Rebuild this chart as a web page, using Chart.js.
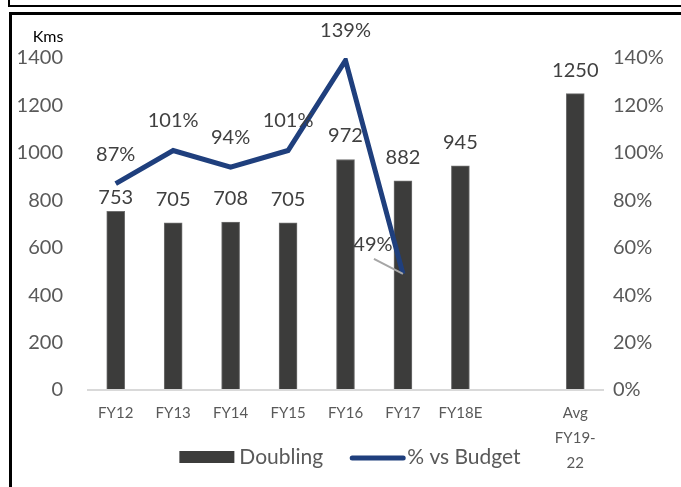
<!DOCTYPE html>
<html>
<head>
<meta charset="utf-8">
<script src="https://cdn.jsdelivr.net/npm/chart.js@4"></script>
<style>
    body { margin: 0; width: 681px; height: 487px; overflow: hidden; position: relative; background: #fff; }
    .frame-top { position: absolute; left: 8px; top: -10px; width: 700px; height: 15px; border-left: 2px solid #000; border-bottom: 2px solid #000; }
    .frame-main { position: absolute; left: 9px; top: 12px; width: 700px; height: 500px; border-left: 3px solid #000; border-top: 3px solid #000; }
    #chart { position: absolute; left: 0; top: 0; z-index: 2; }
</style>
</head>
<body>
<div class="frame-top"></div>
<div class="frame-main"></div>
<canvas id="chart" width="681" height="487"></canvas>
<script>
// Chart data
const categories = ['FY12', 'FY13', 'FY14', 'FY15', 'FY16', 'FY17', 'FY18E', '', ['Avg', 'FY19-', '22']];
const doubling = [753, 705, 708, 705, 972, 882, 945, null, 1250];
const vsBudget = [87, 101, 94, 101, 139, 49, null, null, null];
const kmsTicks = [0, 200, 400, 600, 800, 1000, 1200, 1400];
const pctTicks = [0, 20, 40, 60, 80, 100, 120, 140];

const FONT = 'Lato, "Open Sans", sans-serif';
const BAR_COLOR = '#3c3c3b';
const LINE_COLOR = '#1f3f7d';

// Value labels above bars and points, the "Kms" unit and the legend row
const valueLabels = {
    id: 'valueLabels',
    afterDatasetsDraw(chart, args, opts) {
        const ctx = chart.ctx;
        ctx.save();
        ctx.font = '20px ' + FONT;
        ctx.fillStyle = '#404040';
        ctx.textAlign = 'center';
        ctx.textBaseline = 'alphabetic';

        // bar labels
        chart.getDatasetMeta(0).data.forEach((el, i) => {
            const v = doubling[i];
            if (v == null) return;
            const gap = opts.barGaps[i] ?? 17;
            ctx.fillText(String(v), el.x, el.y - gap);
        });

        // line labels
        chart.getDatasetMeta(1).data.forEach((el, i) => {
            const v = vsBudget[i];
            if (v == null) return;
            const dx = opts.lineShift[i] || 0;
            ctx.fillText(v + '%', el.x + dx, el.y - 23);
            if (dx) {
                // leader line back to the point
                ctx.strokeStyle = '#a6a6a6';
                ctx.lineWidth = 2;
                ctx.beginPath();
                ctx.moveTo(el.x + dx + 1, el.y - 15);
                ctx.lineTo(el.x, el.y);
                ctx.stroke();
            }
        });

        // unit above left axis
        ctx.font = '16px ' + FONT;
        ctx.fillStyle = '#000';
        ctx.textBaseline = 'middle';
        ctx.fillText('Kms', 48, 37);

        // legend
        const lg = opts.legend;
        ctx.font = lg.size + 'px ' + FONT;
        ctx.textAlign = 'left';
        ctx.fillStyle = '#595959';
        const names = chart.data.datasets.map(d => d.label);
        const w0 = lg.sample + lg.textGap[0] + ctx.measureText(names[0]).width;
        const w1 = lg.sample + lg.textGap[1] + ctx.measureText(names[1]).width;
        let x = lg.center - (w0 + lg.itemGap + w1) / 2;
        const y = lg.y;
        ctx.fillStyle = BAR_COLOR;
        ctx.fillRect(x, y - 6, lg.sample, 12);
        ctx.fillStyle = '#595959';
        ctx.fillText(names[0], x + lg.sample + lg.textGap[0], y);
        x += w0 + lg.itemGap;
        ctx.strokeStyle = LINE_COLOR;
        ctx.lineWidth = 5;
        ctx.lineCap = 'round';
        ctx.beginPath();
        ctx.moveTo(x + 2, y + 1);
        ctx.lineTo(x + lg.sample - 2, y + 1);
        ctx.stroke();
        ctx.fillText(names[1], x + lg.sample + lg.textGap[1], y);
        ctx.restore();
    }
};

const chart = new Chart(document.getElementById('chart'), {
    data: {
        labels: categories,
        datasets: [{
            type: 'bar',
            label: 'Doubling',
            data: doubling,
            backgroundColor: BAR_COLOR,
            borderColor: '#6f6f6f',
            borderWidth: 1,
            barThickness: 18,
            yAxisID: 'y',
            order: 2
        }, {
            type: 'line',
            label: '% vs Budget',
            data: vsBudget,
            borderColor: LINE_COLOR,
            backgroundColor: LINE_COLOR,
            borderWidth: 5,
            pointRadius: 0,
            tension: 0,
            yAxisID: 'y1',
            order: 1
        }]
    },
    options: {
        responsive: false,
        animation: false,
        layout: {
            padding: { top: 58, bottom: 0, left: 0, right: 0 }
        },
        plugins: {
            tooltip: { enabled: false },
            legend: { display: false },
            valueLabels: {
                barGaps: { 0: 7 },
                lineShift: { 5: -30 },
                legend: { center: 350, y: 457, size: 21, sample: 55, textGap: [5, 2], itemGap: 27 }
            }
        },
        scales: {
            x: {
                grid: { display: false, drawTicks: false },
                border: { display: false },
                ticks: {
                    color: '#595959',
                    padding: 11,
                    maxRotation: 0,
                    autoSkip: false,
                    font: { family: FONT, size: 15, lineHeight: 1.65 }
                },
                afterFit(scale) { scale.height = 97; }
            },
            y: {
                position: 'left',
                min: kmsTicks[0],
                max: kmsTicks[kmsTicks.length - 1],
                afterBuildTicks(scale) { scale.ticks = kmsTicks.map(v => ({ value: v })); },
                grid: {
                    drawTicks: false,
                    color: c => c.tick && c.tick.value === 0 ? '#d9d9d9' : 'rgba(0,0,0,0)',
                    lineWidth: 2
                },
                border: { display: false },
                ticks: {
                    color: '#595959',
                    padding: 24,
                    font: { family: FONT, size: 20 },
                    callback: v => String(v)
                },
                afterFit(scale) { scale.width = 87; }
            },
            y1: {
                position: 'right',
                min: pctTicks[0],
                max: pctTicks[pctTicks.length - 1],
                afterBuildTicks(scale) { scale.ticks = pctTicks.map(v => ({ value: v })); },
                grid: { display: false, drawTicks: false },
                border: { display: false },
                ticks: {
                    color: '#595959',
                    padding: 9,
                    font: { family: FONT, size: 20 },
                    callback: v => v + '%'
                },
                afterFit(scale) { scale.width = 77; }
            }
        }
    },
    plugins: [valueLabels]
});
</script>
</body>
</html>
